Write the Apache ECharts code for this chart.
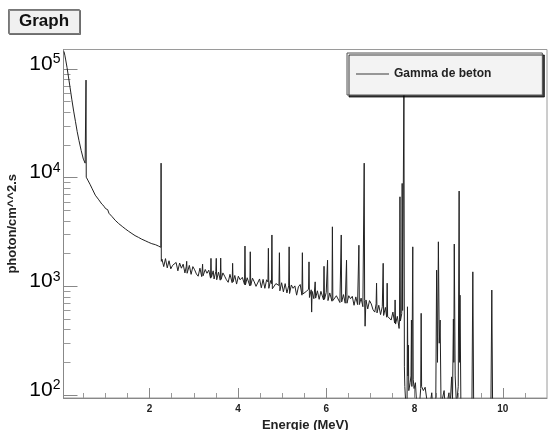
<!DOCTYPE html>
<html><head><meta charset="utf-8">
<script src="https://cdn.jsdelivr.net/npm/echarts@6/dist/echarts.min.js"></script>
<style>html,body{margin:0;padding:0;background:#fff}#c{width:548px;height:430px}</style>
</head><body><div id="c"></div>
<script>
const chartTitle = 'Graph';
const seriesName = 'Gamma de beton';
const xAxisName = 'Energie (MeV)';
const yAxisName = 'photon/cm^^2.s';

const energyMeV = [
  0.06,0.08,0.10,0.13,0.16,0.20,0.24,0.28,0.32,0.36,0.40,0.45,0.50,0.54,0.555,0.56,0.565,
  0.60,0.65,0.70,0.77,0.85,0.92,0.97,1.00,1.05,1.08,1.12,1.15,1.19,1.22,1.26,1.30,1.34,1.38,
  1.42,1.45,1.49,1.52,1.56,1.60,1.64,1.67,1.71,1.75,1.79,1.82,1.86,1.90,1.94,1.97,2.01,2.05,
  2.09,2.13,2.17,2.20,2.24,2.255,2.26,2.265,
  2.28,2.32,2.36,2.40,2.44,2.48,2.52,2.56,2.60,2.64,2.68,2.72,2.76,2.80,2.83,2.84,2.85,2.90,
  2.94,2.98,3.02,3.06,3.10,3.14,3.18,3.20,3.21,3.26,3.30,3.34,3.38,3.39,3.40,3.44,3.46,3.50,
  3.51,3.52,3.56,3.60,3.61,3.62,3.66,3.70,3.74,3.78,3.82,3.87,3.88,3.89,3.93,3.97,4.01,4.05,
  4.10,4.15,4.16,4.17,4.21,4.27,4.28,4.29,4.33,4.37,4.41,4.45,4.49,4.53,4.57,4.61,4.65,4.68,
  4.69,4.70,4.74,4.76,4.77,4.78,4.82,4.86,4.90,4.93,4.94,4.95,4.99,5.03,5.07,5.11,5.15,5.16,
  5.17,5.21,5.25,5.29,5.33,5.37,5.41,5.45,5.46,5.47,5.51,5.55,5.60,5.61,5.62,5.66,5.67,5.68,
  5.72,5.75,5.76,5.80,5.84,5.88,5.94,5.95,5.96,6.00,6.03,6.04,6.08,6.13,6.14,6.15,6.19,6.23,
  6.27,6.31,6.34,6.35,6.39,6.43,6.46,6.47,6.51,6.55,6.59,6.63,6.67,6.71,6.74,6.75,6.79,6.83,
  6.86,6.87,6.88,6.90,6.94,6.98,7.02,7.06,7.10,7.13,7.14,7.15,7.19,7.23,7.27,7.29,7.30,7.34,
  7.37,7.38,7.39,7.43,7.47,7.51,7.55,7.56,7.57,7.61,7.65,7.66,7.67,7.68,7.71,7.72,7.73,7.75,
  7.76,7.77,
  7.78,7.80,7.83,7.84,7.85,7.86,7.87,7.90,7.92,7.93,7.94,7.96,7.97,7.99,8.02,8.05,8.10,8.14,
  8.15,8.16,8.20,8.24,8.28,8.33,8.39,8.42,8.48,8.50,8.52,8.54,8.56,8.58,8.60,8.67,8.70,8.78,
  8.80,8.84,8.86,8.88,8.89,8.90,8.92,8.95,8.99,9.01,9.02,9.03,9.05,9.15,9.30,9.32,9.34,9.50,
  9.73,9.75,9.77,10.2,11.0
];
const flux = [
  145000,134000,121000,103000,86000,67000,52000,41000,33000,26500,22000,17800,14800,13600,13300,79000,10100,
  9500,8700,7900,6900,6250,5700,5450,5200,5080,4700,4680,4380,4300,4060,4020,3780,3780,3560,
  3580,3380,3400,3220,3250,3060,3090,2930,2960,2820,2830,2720,2740,2630,2660,2550,2590,2470,
  2510,2420,2430,2350,2330,2290,13600,1700,
  1780,1520,1800,1480,1720,1450,1560,1500,1660,1390,1640,1470,1600,1330,1520,1700,1320,1560,
  1290,1520,1420,1300,1240,1470,1230,1600,1250,1430,1320,1410,1190,1810,1210,1390,1170,1370,
  1810,1150,1350,1140,1820,1160,1330,1240,1150,1090,1290,1080,1630,1100,1260,1050,1240,1150,
  1210,1040,2350,1030,1200,1010,2080,1020,1190,1100,1000,980,1170,970,1160,960,1150,1100,
  2240,960,1130,1060,2970,950,990,1060,1100,1020,2040,910,1080,890,1060,870,1010,2310,
  860,1030,960,1010,830,990,1040,830,2040,850,860,900,940,1680,790,930,580,900,
  770,1100,780,910,760,900,750,1530,760,880,1740,740,870,730,3530,740,760,820,
  850,710,2970,720,840,700,1740,700,820,770,810,670,800,680,2390,680,780,650,
  13600,740,430,750,620,740,690,610,580,690,1070,570,670,550,650,1630,540,640,
  520,1070,530,540,490,580,460,750,450,530,410,500,6670,480,560,8850,600,620,
  80000,182,
  120,85,70,649,150,288,110,130,150,490,120,2310,140,115,130,80,70,115,
  565,120,110,118,90,70,105,70,75,1410,200,2570,300,490,80,110,70,105,
  70,147,90,500,200,2450,150,80,120,7530,200,830,80,60,80,1360,70,60,
  80,925,60,50,50
];

const xMajorTicks = [2, 4, 6, 8, 10];
const xMinorTicks = [0.5, 1, 1.5, 2.5, 3, 3.5, 4.5, 5, 5.5, 6.5, 7, 7.5, 8.5, 9, 9.5, 10.5];
const yMajorTicks = [100, 1000, 10000, 100000];
const yTickExponents = ['2', '3', '4', '5'];
const yMinorTicks = [200,300,400,500,600,700,800,900,2000,3000,4000,5000,6000,7000,8000,9000,
  20000,30000,40000,50000,60000,70000,80000,90000];

const FONT = 'Liberation Sans, Arial, Helvetica, sans-serif';
const X_MIN = 0.05, X_MAX = 11, Y_MIN = 94, Y_MAX = 151000;

const chart = echarts.init(document.getElementById('c'), null, {renderer: 'canvas'});
const data = energyMeV.map((e, i) => [e, flux[i]]);

chart.setOption({
  animation: false,
  backgroundColor: '#ffffff',
  textStyle: {fontFamily: FONT},
  title: {
    text: chartTitle, left: 8, top: 9,
    padding: [4, 11, 4, 11],
    backgroundColor: '#f0f0f0', borderColor: '#777', borderWidth: 1,
    shadowColor: 'rgba(0,0,0,0.45)', shadowOffsetX: 1, shadowOffsetY: 1, shadowBlur: 0,
    textStyle: {fontSize: 17, fontWeight: 'bold', color: '#111', fontFamily: FONT}
  },
  legend: {
    data: [{name: seriesName, icon: 'rect', itemStyle: {color: '#777'}}],
    left: 347, top: 53,
    padding: [15, 51, 15, 9],
    itemWidth: 33, itemHeight: 1.5, itemGap: 5,
    backgroundColor: '#f3f3f3', borderColor: '#555', borderWidth: 1,
    shadowColor: 'rgba(0,0,0,0.75)', shadowOffsetX: 2, shadowOffsetY: 2, shadowBlur: 0,
    textStyle: {fontSize: 12, fontWeight: 'bold', color: '#222', fontFamily: FONT},
    selectedMode: false
  },
  grid: {
    left: 63.5, right: 1, top: 49.5, bottom: 32,
    show: true, borderColor: '#9a9a9a', borderWidth: 1, backgroundColor: 'transparent',
    containLabel: false, outerBoundsMode: 'none'
  },
  xAxis: [
    {
      type: 'value', min: X_MIN, max: X_MAX, position: 'bottom',
      name: xAxisName, nameLocation: 'middle', nameGap: 17,
      nameTextStyle: {fontSize: 13, fontWeight: 'bold', color: '#222', fontFamily: FONT},
      axisLine: {show: true, lineStyle: {color: '#888', width: 1}},
      axisTick: {show: true, inside: true, length: 10, customValues: xMajorTicks, lineStyle: {color: '#888'}},
      axisLabel: {show: true, customValues: xMajorTicks, margin: 6, fontSize: 10, fontWeight: 'bold', color: '#222', fontFamily: FONT},
      splitLine: {show: false}
    },
    {
      type: 'value', min: X_MIN, max: X_MAX, position: 'bottom', gridIndex: 0,
      axisLine: {show: false},
      axisTick: {show: true, inside: true, length: 5, customValues: xMinorTicks, lineStyle: {color: '#999'}},
      axisLabel: {show: false},
      splitLine: {show: false}
    }
  ],
  yAxis: [
    {
      type: 'log', logBase: 10, min: Y_MIN, max: Y_MAX, position: 'left',
      name: yAxisName, nameLocation: 'middle', nameGap: 35, nameRotate: 90,
      nameTextStyle: {fontSize: 13, fontWeight: 'bold', color: '#222', fontFamily: FONT},
      axisLine: {show: true, lineStyle: {color: '#888', width: 1}},
      axisTick: {show: true, inside: true, length: 14, customValues: yMajorTicks, lineStyle: {color: '#888'}},
      axisLabel: {
        show: true, customValues: yMajorTicks, margin: 3,
        formatter: function (v) {
          let idx = 0, best = Infinity;
          yMajorTicks.forEach((t, i) => {
            const d = Math.abs(Math.log10(v) - Math.log10(t));
            if (d < best) { best = d; idx = i; }
          });
          return '{b|10}{s|' + yTickExponents[idx] + '}';
        },
        rich: {
          b: {fontSize: 21, color: '#000', fontFamily: FONT, verticalAlign: 'bottom', lineHeight: 22},
          s: {fontSize: 14, color: '#000', fontFamily: FONT, verticalAlign: 'top', lineHeight: 22}
        },
        verticalAlign: 'middle',
        padding: [0, 0, 11, 0]
      },
      splitLine: {show: false}
    },
    {
      type: 'log', logBase: 10, min: Y_MIN, max: Y_MAX, position: 'left', gridIndex: 0,
      axisLine: {show: false},
      axisTick: {show: true, inside: true, length: 7, customValues: yMinorTicks, lineStyle: {color: '#999'}},
      axisLabel: {show: false},
      splitLine: {show: false}
    }
  ],
  series: [{
    name: seriesName, type: 'line', xAxisIndex: 0, yAxisIndex: 0,
    data: data, showSymbol: false, symbol: 'none', clip: true,
    lineStyle: {color: '#222', width: 1},
    itemStyle: {color: '#222'},
    z: 2
  }]
});
</script>
</body></html>
